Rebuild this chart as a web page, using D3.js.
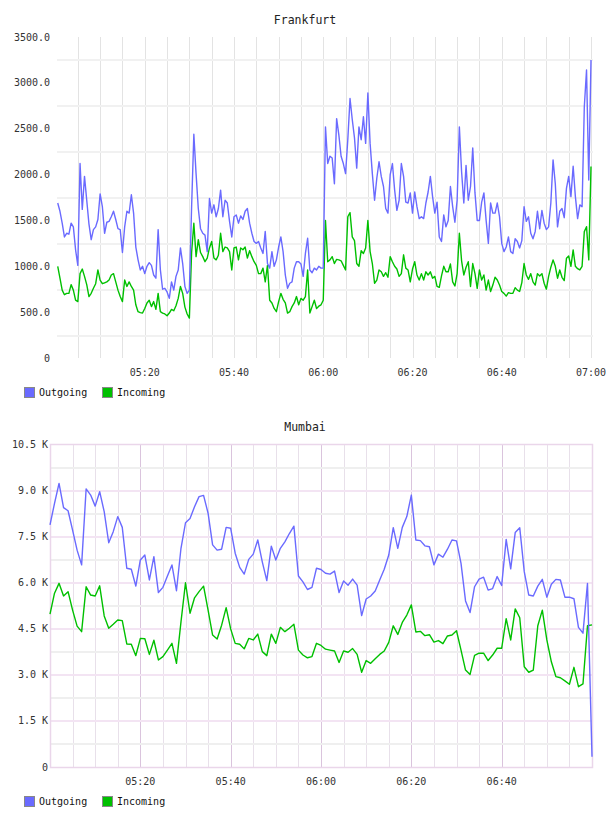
<!DOCTYPE html>
<html>
<head>
<meta charset="utf-8">
<script src="https://cdn.jsdelivr.net/npm/d3@7"></script>
<style>
  body { margin: 0; background: #fff; }
  svg { display: block; font-family: 'DejaVu Sans Mono', monospace; }
  .grid path { display: none; }
  .grid line { shape-rendering: crispEdges; }
  .tick-label { font-size: 10px; fill: #333; }
  .title { font-size: 11.5px; fill: #222; text-anchor: middle; }
  .legend-text { font-size: 10px; fill: #111; }
  .path-line { fill: none; stroke-width: 1.4; stroke-linejoin: round; }
</style>
</head>
<body>
<svg id="chart" width="608" height="816"></svg>
<script>
// Tick labels
const timeTickLabels = ['05:20', '05:40', '06:00', '06:20', '06:40', '07:00']
const frankfurtYTicks = [0, 500, 1000, 1500, 2000, 2500, 3000, 3500]
const mumbaiYTicks = [0, 1500, 3000, 4500, 6000, 7500, 9000, 10500]

// Frankfurt, one sample every 30 s from 05:00:30 to 07:00:00
const frankfurtOutgoing = [
  1690, 1600, 1470, 1320, 1360, 1350, 1470, 1430, 1180, 1010,
  2120, 1620, 1980, 1720, 1460, 1290, 1400, 1430, 1510, 1790,
  1650, 1360, 1480, 1490, 1540, 1600, 1510, 1410, 1400, 1150,
  1430, 1600, 1580, 1780, 1580, 1210, 1070, 960, 1000, 920,
  1000, 1040, 1010, 905, 870, 1400, 960, 750, 760, 720,
  650, 830, 740, 890, 960, 1200, 1030, 780, 705, 740,
  1650, 2440, 2010, 1630, 1410, 1360, 1340, 1160, 1740, 1580,
  1670, 1540, 1630, 1830, 1540, 1720, 1690, 1490, 1320, 1540,
  1560, 1470, 1550, 1510, 1600, 1630, 1470, 1360, 1270, 1250,
  1270, 1200, 1140, 1380, 1030, 980, 1160, 1000, 1070, 1210,
  1320, 1160, 905, 760, 815, 830, 980, 1050, 1050, 1025,
  890, 1140, 1305, 960, 930, 980, 960, 1000, 980, 980,
  2520, 2120, 2200, 2180, 1900, 2610, 2430, 2200, 2120, 2010,
  2380, 2830, 2600, 2400, 2070, 2520, 2380, 2630, 2340, 2890,
  2340, 2010, 1720, 1960, 2140, 1980, 1870, 1630, 1580, 2000,
  2120, 1830, 1610, 1720, 2120, 1980, 1700, 1690, 1800, 1580,
  1810, 1650, 1520, 1540, 1520, 1690, 1810, 1980, 1760, 1580,
  1700, 1320, 1270, 1560, 1430, 1500, 1870, 1650, 1480, 1720,
  2520, 2030, 1690, 2100, 1720, 1870, 2290, 1800, 1500, 1500,
  1700, 1800, 1500, 1250, 1690, 1580, 1580, 1690, 1540, 1250,
  1160, 1210, 1320, 1160, 1140, 1300, 1270, 1200, 1280, 1650,
  1490, 1540, 1360, 1300, 1380, 1600, 1410, 1610, 1470, 1400,
  1430, 1690, 2160, 1900, 1430, 1600, 1630, 1530, 1850, 1980,
  1760, 2090, 1760, 1520, 1670, 1650, 2740, 3140, 1940, 3250
]
const frankfurtIncoming = [
  1000, 870, 740, 690, 705, 705, 800, 740, 630, 615,
  920, 970, 890, 800, 670, 705, 760, 810, 960, 850,
  810, 820, 830, 850, 905, 920, 830, 740, 670, 615,
  850, 780, 830, 780, 740, 580, 505, 495, 490, 540,
  600, 630, 560, 615, 530, 705, 505, 490, 480, 460,
  490, 530, 515, 570, 650, 780, 705, 555, 480, 435,
  1150, 1470, 1105, 1290, 1150, 1105, 1050, 1090, 1200, 1270,
  1090, 1070, 1120, 1360, 1160, 1210, 1200, 1160, 960, 1200,
  1210, 1070, 1200, 1180, 1210, 1090, 1170, 1105, 1050, 1010,
  920, 920, 980, 830, 1010, 630, 600, 540, 505, 615,
  705, 640, 600, 490, 505, 560, 600, 670, 580, 650,
  630, 670, 960, 490, 560, 630, 540, 565, 580, 630,
  1500, 1050, 1070, 1105, 1030, 1075, 1070, 1060, 1010, 960,
  1540, 1585, 1320, 1280, 1030, 1000, 1170, 1140, 1200, 1500,
  1160, 1030, 815, 850, 960, 940, 890, 930, 880, 1105,
  1050, 1000, 970, 890, 920, 1125, 980, 960, 830, 970,
  1050, 905, 850, 920, 850, 940, 905, 940, 870, 890,
  780, 770, 895, 1000, 940, 940, 1025, 830, 785, 920,
  1360, 1060, 905, 990, 1050, 780, 1030, 920, 760, 960,
  850, 905, 740, 850, 725, 795, 880, 850, 795, 725,
  705, 675, 713, 705, 705, 767, 740, 725, 822, 1030,
  905, 858, 920, 830, 795, 920, 895, 920, 815, 750,
  890, 990, 1070, 1000, 870, 960, 880, 844, 1087, 1112,
  1000, 1178, 1000, 974, 960, 1000, 1378, 1432, 1070, 2087
]

// Mumbai, one sample a minute from 05:00 to 07:00
const mumbaiOutgoing = [
  7870, 8570, 9220, 8430, 8330, 7700, 7050, 6570, 9040, 8840,
  8480, 8950, 8300, 7290, 7650, 8140, 7790, 6460, 6430, 5880,
  6730, 6890, 6080, 6840, 5670, 5840, 6210, 6570, 5730, 7110,
  7940, 8080, 8460, 8790, 8830, 8250, 7220, 7050, 7080, 7790,
  7760, 6950, 6490, 6270, 6750, 6920, 7380, 6670, 6060, 7180,
  6730, 7110, 7320, 7590, 7830, 6210, 6020, 5770, 5840, 6460,
  6420, 6300, 6270, 6370, 5670, 6050, 5910, 6110, 5910, 4920,
  5460, 5560, 5720, 6080, 6430, 6890, 7780, 7110, 7790, 8140,
  8840, 7380, 7360, 7190, 7160, 6570, 6920, 6820, 7080, 7380,
  7350, 6620, 5400, 5020, 5860, 6110, 6170, 5750, 5800, 6190,
  5900, 7400, 6440, 7620, 7780, 6350, 5590, 5560, 5880, 6100,
  5520, 5940, 6100, 6080, 5520, 5520, 5470, 4540, 4350, 5970,
  330
]
const mumbaiIncoming = [
  4970, 5650, 5970, 5560, 5700, 5100, 4580, 4400, 5860, 5590,
  5560, 5890, 4910, 4510, 4640, 4780, 4760, 4000, 3990, 3620,
  4180, 4170, 3660, 4120, 3480, 3590, 3800, 4020, 3370, 4720,
  5990, 5000, 5500, 5700, 5880, 5100, 4290, 4160, 4610, 5180,
  4490, 4020, 3990, 3840, 4180, 4130, 4320, 3750, 3620, 4320,
  4020, 4540, 4400, 4510, 4640, 3800, 3640, 3550, 3590, 4020,
  3950, 3830, 3800, 3770, 3400, 3770, 3730, 3850, 3660, 3080,
  3460, 3370, 3520, 3660, 3770, 4050, 4590, 4310, 4700, 4940,
  5270, 4390, 4410, 4270, 4300, 4060, 4110, 4010, 4260, 4290,
  4430, 3800, 3150, 3010, 3630, 3700, 3700, 3460, 3640, 3860,
  3860, 4820, 4130, 5140, 4850, 3260, 3080, 3150, 4590, 5100,
  4130, 3420, 2940, 2900, 2800, 2690, 3240, 2610, 2700, 4590,
  4620
]

const parseTime = d3.timeParse('%Y-%m-%d %H:%M')
const day = '2020-01-01 '
const startTime = parseTime(day + '05:00')
const endTime = parseTime(day + '07:00')
const timeTicks = timeTickLabels.map(t => parseTime(day + t))

const frankfurtTimes = frankfurtOutgoing.map((d, i) => d3.timeSecond.offset(startTime, 30 * (i + 1)))
const mumbaiTimes = mumbaiOutgoing.map((d, i) => d3.timeMinute.offset(startTime, i))

const colors = { out: '#6a6aff', in: '#00c000' }
const svg = d3.select('#chart')

const drawPanel = (opt) => {
  const x = d3.scaleTime().domain([startTime, endTime]).range([opt.x0, opt.x1])
  const y = d3.scaleLinear().domain([0, d3.max(opt.yTicks)]).range([opt.bottom, opt.top])
  const g = svg.append('g')

  // Title
  g.append('text')
    .attr('class', 'title')
    .attr('x', 305)
    .attr('y', opt.top - 13)
    .text(opt.title)

  // Vertical gridlines every 5 minutes
  const minorX = d3.timeMinute.every(5).range(d3.timeMinute.offset(startTime, 5), d3.timeMinute.offset(endTime, 1))
  g.append('g')
    .attr('class', 'grid')
    .attr('transform', `translate(0, ${opt.bottom})`)
    .call(d3.axisBottom(x).tickValues(minorX).tickSize(-(opt.bottom - opt.top)).tickFormat(''))
    .selectAll('line')
    .attr('stroke', d => (opt.majorX && timeTicks.some(t => +t === +d)) ? opt.majorX : opt.minorXColor)

  // Horizontal gridlines
  g.append('g')
    .attr('class', 'grid')
    .attr('transform', `translate(${opt.gridLeft}, 0)`)
    .call(d3.axisLeft(y).tickValues(opt.hGrid).tickSize(-(opt.gridRight - opt.gridLeft)).tickFormat(''))
    .selectAll('line')
    .attr('stroke', d => opt.hGridColor(d))
    .attr('stroke-width', 2)

  // Plot border (Mumbai only)
  if (opt.border) {
    g.append('rect')
      .attr('x', opt.gridLeft + 0.5)
      .attr('y', opt.top + 0.5)
      .attr('width', opt.gridRight - opt.gridLeft - 1)
      .attr('height', opt.bottom - opt.top)
      .attr('fill', 'none')
      .attr('stroke', opt.border)
      .attr('stroke-width', 1.5)
  }

  // Y labels
  g.selectAll('.ylab')
    .data(opt.yTicks)
    .join('text')
    .attr('class', 'tick-label')
    .attr('x', opt.yLabelX)
    .attr('y', d => y(d))
    .attr('dy', '0.35em')
    .attr('text-anchor', 'end')
    .text(opt.yFormat)

  // X labels
  g.selectAll('.xlab')
    .data(timeTicks.filter(t => x(t) <= opt.x1 - 1 || opt.showLast))
    .join('text')
    .attr('class', 'tick-label')
    .attr('x', d => x(d))
    .attr('y', opt.bottom + 18)
    .attr('text-anchor', 'middle')
    .text(d3.timeFormat('%H:%M'))

  // Lines
  const seriesLine = vals => d3.line()
    .x((d, i) => x(opt.times[i]))
    .y(d => y(d))(vals)

  g.append('path')
    .attr('class', 'path-line')
    .attr('stroke', colors.in)
    .attr('d', seriesLine(opt.incoming))

  g.append('path')
    .attr('class', 'path-line')
    .attr('stroke', colors.out)
    .attr('d', seriesLine(opt.outgoing))

  // Legend
  const legend = [['Outgoing', colors.out, 24], ['Incoming', colors.in, 102]]
  legend.forEach(([name, color, lx]) => {
    g.append('rect')
      .attr('x', lx + 0.5)
      .attr('y', opt.legendY + 0.5)
      .attr('width', 10)
      .attr('height', 10)
      .attr('fill', color)
      .attr('stroke', '#888')
    g.append('text')
      .attr('class', 'legend-text')
      .attr('x', lx + 15)
      .attr('y', opt.legendY + 9)
      .text(name)
  })
}

drawPanel({
  title: 'Frankfurt',
  times: frankfurtTimes,
  outgoing: frankfurtOutgoing,
  incoming: frankfurtIncoming,
  x0: 55.5, x1: 591, top: 37, bottom: 358,
  gridLeft: 57, gridRight: 593,
  yTicks: frankfurtYTicks,
  hGrid: d3.range(250, 3500, 500),
  hGridColor: () => '#f1f1f1',
  minorXColor: '#e3e3e3',
  yLabelX: 50,
  yFormat: d => d === 0 ? '0' : d3.format('.1f')(d),
  showLast: true,
  legendY: 387
})

drawPanel({
  title: 'Mumbai',
  times: mumbaiTimes,
  outgoing: mumbaiOutgoing,
  incoming: mumbaiIncoming,
  x0: 50, x1: 592, top: 444, bottom: 767,
  gridLeft: 50, gridRight: 593,
  yTicks: mumbaiYTicks,
  hGrid: d3.range(750, 10500, 750),
  hGridColor: d => d % 1500 === 0 ? '#f3e4f3' : '#efefef',
  minorXColor: '#e8e0ea',
  majorX: '#dac4dd',
  border: '#ead6ea',
  yLabelX: 48,
  yFormat: d => d === 0 ? '0' : d3.format('.1f')(d / 1000) + ' K',
  showLast: false,
  legendY: 796
})
</script>
</body>
</html>
